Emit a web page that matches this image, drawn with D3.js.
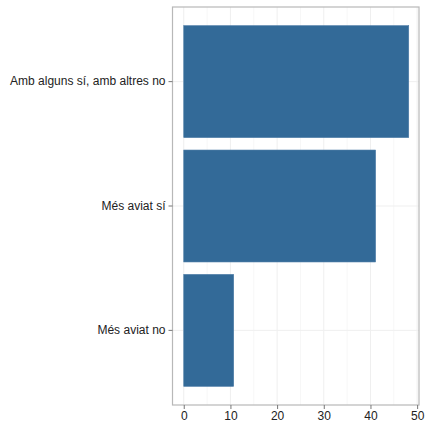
<!DOCTYPE html>
<html><head><meta charset="utf-8">
<script src="https://cdn.jsdelivr.net/npm/d3@7"></script>
<style>body{margin:0;background:#fff}svg{display:block}text{font-family:"Liberation Sans",Arial,sans-serif}</style>
</head><body>
<svg id="c" width="426" height="422"></svg>
<script>
const categories = ["Amb alguns sí, amb altres no", "Més aviat sí", "Més aviat no"];
const values = [48.2, 41.1, 10.7];
const xTicks = [0, 10, 20, 30, 40, 50];
const xMinor = [5, 15, 25, 35, 45];

const svg = d3.select("#c");
const L = 172.5, R = 419, T = 7, B = 405;
const maxV = d3.max(values);
const x = d3.scaleLinear().domain([-0.05 * maxV, 50.4]).range([L, R]);
const y = d3.scaleBand().domain(categories).range([T, B]).paddingInner(0.1).paddingOuter(0.15);

const g = svg.append("g");
g.append("rect").attr("x", L).attr("y", T).attr("width", R - L).attr("height", B - T).attr("fill", "#fff");
g.selectAll(".mn").data(xMinor).join("line")
  .attr("x1", d => x(d)).attr("x2", d => x(d)).attr("y1", T).attr("y2", B)
  .attr("stroke", "#f7f7f7").attr("stroke-width", 1);
g.selectAll(".mj").data(xTicks).join("line")
  .attr("x1", d => x(d)).attr("x2", d => x(d)).attr("y1", T).attr("y2", B)
  .attr("stroke", "#efefef").attr("stroke-width", 1);
g.selectAll(".hy").data(categories).join("line")
  .attr("x1", L).attr("x2", R).attr("y1", d => y(d) + y.bandwidth() / 2).attr("y2", d => y(d) + y.bandwidth() / 2)
  .attr("stroke", "#efefef").attr("stroke-width", 1);

g.selectAll(".bar").data(values).join("rect")
  .attr("x", x(0)).attr("y", (d, i) => y(categories[i]))
  .attr("width", d => x(d) - x(0)).attr("height", y.bandwidth())
  .attr("fill", "#336a98").attr("stroke", "#4a7aa5").attr("stroke-width", 0.6);

g.append("rect").attr("x", L).attr("y", T).attr("width", R - L).attr("height", B - T)
  .attr("fill", "none").attr("stroke", "#b8b8b8").attr("stroke-width", 1.2);

const xa = svg.append("g").attr("transform", `translate(0,${B})`)
  .call(d3.axisBottom(x).tickValues(xTicks).tickSize(4).tickPadding(2));
xa.select(".domain").remove();
xa.selectAll("line").attr("stroke", "#777");
xa.selectAll("text").attr("font-size", 12).attr("fill", "#222");

const ya = svg.append("g").attr("transform", `translate(${L},0)`)
  .call(d3.axisLeft(y).tickSize(4).tickPadding(3));
ya.select(".domain").remove();
ya.selectAll("line").attr("stroke", "#777");
ya.selectAll("text").attr("font-size", 12).attr("fill", "#222");
</script>
</body></html>
